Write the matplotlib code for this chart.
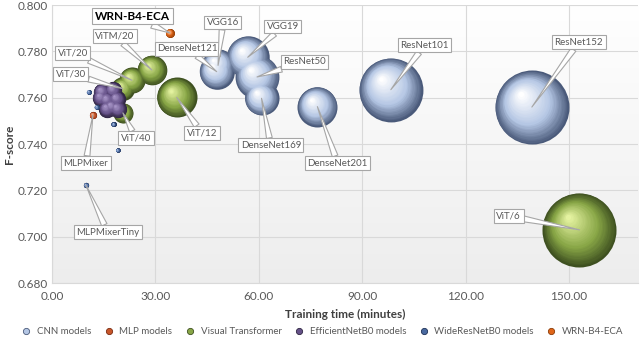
import numpy as np
import matplotlib.pyplot as plt
from matplotlib.colors import to_rgb
from matplotlib.lines import Line2D

plt.rcParams['font.family'] = ['Lato', 'DejaVu Sans']

# ---- data (training time in minutes, F-score, relative bubble size) ----
cnn_names = ['DenseNet121', 'VGG16', 'ResNet50', 'VGG19', 'DenseNet169',
             'DenseNet201', 'ResNet101', 'ResNet152']
cnn_time = [47.8, 48.2, 59.5, 56.8, 60.8, 77.0, 98.3, 139.2]
cnn_f = [0.7713, 0.7740, 0.7690, 0.7775, 0.7598, 0.7562, 0.7635, 0.7560]
cnn_size = [30, 26, 48, 45, 29, 40, 102, 137]

mlp_names = ['MLPMixer', 'MLPMixerTiny']
mlp_time = [11.9, 9.9]
mlp_f = [0.7525, 0.7223]
mlp_size = [1.3, 0.7]

vit_names = ['ViT/6', 'ViT/12', 'ViTM/20', 'ViT/20', 'ViT/30', 'ViT/40']
vit_time = [153.0, 36.2, 29.0, 23.2, 20.5, 20.6]
vit_f = [0.7030, 0.7602, 0.7720, 0.7676, 0.7640, 0.7535]
vit_size = [137, 40, 22, 17, 13, 10]

eff_time = [14.5, 17.7, 18.8, 16.0, 17.4, 16.0, 19.1, 14.2]
eff_f = [0.7625, 0.7633, 0.7594, 0.7590, 0.7560, 0.7552, 0.7552, 0.7600]
eff_size = [7.5, 7.5, 7.5, 7.5, 7.5, 7.5, 7.5, 7.5]

wrn_b0_time = [10.7, 13.0, 17.9, 19.1]
wrn_b0_f = [0.7625, 0.7560, 0.7486, 0.7374]
wrn_b0_size = [0.6, 0.6, 0.6, 0.5]

eca_time = [34.2]
eca_f = [0.7880]
eca_size = [2.0]

legend_labels = ['CNN models', 'MLP models', 'Visual Transformer',
                 'EfficientNetB0 models', 'WideResNetB0 models', 'WRN-B4-ECA']

# callout text positions (time, F-score)
cnn_label_pos = [(39.4, 0.7812), (49.6, 0.7925), (73.3, 0.7755), (67.0, 0.7908),
                 (63.5, 0.7395), (82.9, 0.7317), (108.1, 0.7827), (152.8, 0.7840)]
mlp_label_pos = [(9.9, 0.7318), (16.2, 0.7020)]
vit_label_pos = [(132.5, 0.7090), (43.5, 0.7448), (18.3, 0.7866), (6.1, 0.7793),
                 (5.5, 0.7702), (24.4, 0.7425)]
eca_label_pos = [(23.5, 0.7953)]

# ---- figure ----
fig = plt.figure(figsize=(6.4, 3.44), dpi=100)
ax = fig.add_axes([0.081, 0.177, 0.916, 0.808])
ax.set_xlim(0, 170)
ax.set_ylim(0.68, 0.80)

# subtle gradient background like the original
grad = np.linspace(0.93, 1.0, 200).reshape(-1, 1)
ax.imshow(np.dstack([grad, grad, grad]), extent=[0, 170, 0.68, 0.80],
          aspect='auto', origin='lower', zorder=0)

ax.set_xticks(np.arange(0, 151, 30))
ax.set_yticks(np.arange(0.68, 0.8001, 0.02))
ax.set_xticklabels([f'{v:.2f}' for v in np.arange(0, 151, 30)])
ax.set_yticklabels([f'{v:.3f}' for v in np.arange(0.68, 0.8001, 0.02)])
ax.grid(True, color='#d9d9d9', lw=0.8, zorder=1)
ax.set_axisbelow(True)
for s in ax.spines.values():
    s.set_visible(False)
ax.spines['bottom'].set_visible(True)
ax.spines['bottom'].set_color('#d9d9d9')
ax.spines['left'].set_visible(True)
ax.spines['left'].set_color('#d9d9d9')
ax.tick_params(length=0, labelsize=8.5, colors='#595959')
ax.tick_params(axis='y', pad=3)
ax.tick_params(axis='x', pad=6)
ax.set_xlabel('Training time (minutes)', fontsize=8.5, fontweight='bold',
              color='#404040', labelpad=5)
ax.set_ylabel('F-score', fontsize=8.5, fontweight='bold', color='#404040',
              labelpad=2)

# pixel scale for shading offsets
bb = ax.get_position()
px_x = 170 / (bb.width * 640)
px_y = 0.12 / (bb.height * 344)


def mix(c1, c2, t):
    a, b = np.array(to_rgb(c1)), np.array(to_rgb(c2))
    return tuple(a + (b - a) * t)


def sphere(x, y, size, edge, base, light, z):
    r = np.sqrt(size * 10)  # radius in pixels
    n = 28
    for i in range(n):
        t = i / (n - 1)
        ri = r * (1 - 0.93 * t)
        cx = x - 0.3 * r * t * px_x
        cy = y + 0.34 * r * t * px_y
        if t < 0.4:
            col = mix(edge, base, t / 0.4)
        else:
            col = mix(base, light, (t - 0.4) / 0.6)
        ax.scatter(cx, cy, s=(2 * ri * 0.72) ** 2, color=col, lw=0,
                   zorder=z + t * 0.5)


styles = {
    'cnn': ('#4a5a7a', '#b4c6e4', '#ffffff'),
    'mlp': ('#7a2a10', '#c8562a', '#f4b090'),
    'vit': ('#3e5020', '#88a646', '#e4f2a0'),
    'eff': ('#2e2440', '#655188', '#a896c8'),
    'wrn': ('#1c2f55', '#4a6aa0', '#b0c4e8'),
    'eca': ('#8a3a06', '#e0661a', '#fcc498'),
}

series = [
    ('cnn', cnn_time, cnn_f, cnn_size, 2),
    ('mlp', mlp_time, mlp_f, mlp_size, 3),
    ('vit', vit_time, vit_f, vit_size, 4),
    ('eff', eff_time, eff_f, eff_size, 5),
    ('wrn', wrn_b0_time, wrn_b0_f, wrn_b0_size, 6),
    ('eca', eca_time, eca_f, eca_size, 7),
]
for key, xs, ys, ss, z in series:
    order = np.argsort(ss)[::-1]
    for j in order:
        st = styles[key]
        if key == 'mlp' and j == 1:
            st = styles['wrn']
        sphere(xs[j], ys[j], ss[j], *st, z)


# ---- callouts ----
def callout(text, xy, xytext, bold=False):
    ax.annotate(text, xy=xy, xytext=xytext, textcoords='data',
                fontsize=8.5 if bold else 7,
                fontweight='bold' if bold else 'normal',
                color='#000000' if bold else '#595959',
                ha='center', va='center', zorder=20,
                bbox=dict(boxstyle='square,pad=0.25', fc='white',
                          ec='#a6a6a6', lw=0.8),
                arrowprops=dict(arrowstyle='wedge,tail_width=0.6,shrink_factor=0.5',
                                fc='white', ec='#a6a6a6', lw=0.8,
                                shrinkA=0, shrinkB=0))


for names, xs, ys, pos in [(cnn_names, cnn_time, cnn_f, cnn_label_pos),
                            (mlp_names, mlp_time, mlp_f, mlp_label_pos),
                            (vit_names, vit_time, vit_f, vit_label_pos)]:
    for n, x, y, p in zip(names, xs, ys, pos):
        callout(n, (x, y), p)
callout('WRN-B4-ECA', (eca_time[0], eca_f[0]), eca_label_pos[0], bold=True)

# ---- legend ----
handles = []
for key in ['cnn', 'mlp', 'vit', 'eff', 'wrn', 'eca']:
    e, b, l = styles[key]
    handles.append(Line2D([], [], ls='', marker='o', ms=4.5, mfc=b, mec=e,
                          mew=0.6))
fig.legend(handles, legend_labels, loc='center', bbox_to_anchor=(0.5, 0.035),
           ncol=6, frameon=False, fontsize=7, handletextpad=0.1,
           columnspacing=0.8, labelcolor='#595959')

fig.savefig('out.png', dpi=100)
